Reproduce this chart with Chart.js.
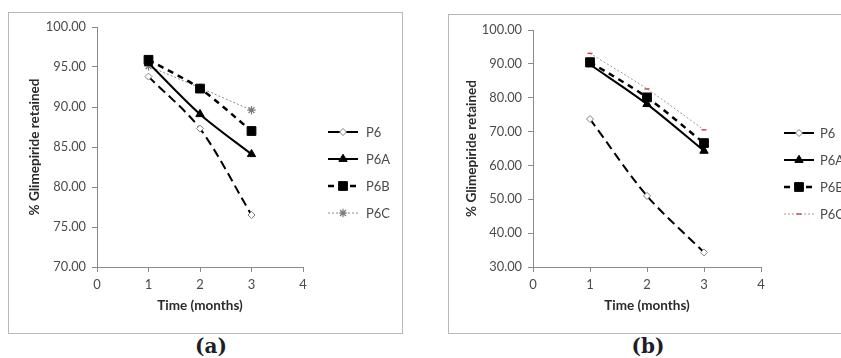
<!DOCTYPE html>
<html>
<head>
<meta charset="utf-8">
<script src="https://cdn.jsdelivr.net/npm/chart.js@4.4.1/dist/chart.umd.min.js"></script>
<style>
  html, body { margin: 0; padding: 0; background: #fff; width: 841px; height: 358px; overflow: hidden; }
  .frame { position: absolute; border: 1px solid #b8b8b8; box-sizing: border-box; background: #fff; }
  .wrap { position: absolute; }
  .caption { position: absolute; font-family: "DejaVu Serif", "Liberation Serif", serif; font-weight: bold;
             font-size: 20px; color: #1d1d28; transform: translate(-50%, -50%); white-space: nowrap; }
</style>
</head>
<body>
<div class="frame" style="left:8px; top:12px; width:395px; height:322px;"></div>
<div class="frame" style="left:448px; top:14px; width:400px; height:320px;"></div>
<div class="wrap" style="left:9px; top:13px; width:392px; height:319px;"><canvas id="chartA" width="392" height="319"></canvas></div>
<div class="wrap" style="left:449px; top:15px; width:392px; height:317px;"><canvas id="chartB" width="392" height="317"></canvas></div>
<div class="caption" style="left:211px; top:346px;">(a)</div>
<div class="caption" style="left:648px; top:346px;">(b)</div>

<script>
// Storage time points (months)
const months = [1, 2, 3];
const seriesNames = ['P6', 'P6A', 'P6B', 'P6C'];

// Panel (a): % glimepiride retained
const aP6  = [93.8, 87.3, 76.5];
const aP6A = [95.5, 89.1, 84.1];
const aP6B = [95.9, 92.3, 87.0];
const aP6C = [95.1, 92.4, 89.6];

// Panel (b): % glimepiride retained
const bP6  = [73.7, 51.0, 34.3];
const bP6A = [89.8, 78.1, 64.3];
const bP6B = [90.5, 80.1, 66.6];
const bP6C = [93.1, 82.6, 70.5];

// Axis tick labels
const xTickLabels = ['0', '1', '2', '3', '4'];
const yTickLabelsA = ['70.00', '75.00', '80.00', '85.00', '90.00', '95.00', '100.00'];
const yTickLabelsB = ['30.00', '40.00', '50.00', '60.00', '70.00', '80.00', '90.00', '100.00'];

const FONT = 'Lato, "Open Sans", sans-serif';
const AXIS_GRAY = '#8a8a8a';
const TEXT_GRAY = '#4a4a4a';

function points(values) {
  return months.map((m, i) => ({ x: m, y: values[i] }));
}

// Draw a marker in the legend with the same style as the series points
function drawMarker(ctx, ds, x, y) {
  ctx.save();
  ctx.setLineDash([]);
  ctx.fillStyle = ds.pointBackgroundColor;
  ctx.strokeStyle = ds.pointBorderColor;
  ctx.lineWidth = ds.pointBorderWidth;
  if (Chart.helpers && Chart.helpers.drawPoint) {
    Chart.helpers.drawPoint(ctx, {
      pointStyle: ds.pointStyle, radius: ds.pointRadius, rotation: 0, borderWidth: ds.pointBorderWidth
    }, x, y);
  }
  ctx.restore();
}

// Legend drawn as line sample + marker + name, stacked vertically
const sampleLegend = {
  id: 'sampleLegend',
  afterDraw(chart, args, opts) {
    const ctx = chart.ctx;
    chart.data.datasets.forEach((ds, i) => {
      const y = opts.top + i * opts.spacing;
      const x0 = opts.left, x1 = opts.left + opts.lineLength;
      ctx.save();
      ctx.strokeStyle = ds.borderColor;
      ctx.lineWidth = ds.borderWidth;
      ctx.setLineDash(ds.legendDash || []);
      ctx.beginPath();
      ctx.moveTo(x0, y);
      ctx.lineTo(x1, y);
      ctx.stroke();
      ctx.restore();
      drawMarker(ctx, ds, (x0 + x1) / 2, y);
      ctx.save();
      ctx.fillStyle = TEXT_GRAY;
      ctx.font = '13px ' + FONT;
      ctx.textBaseline = 'middle';
      ctx.textAlign = 'left';
      ctx.fillText(ds.label, x1 + opts.textGap, y + 1);
      ctx.restore();
    });
  }
};

function makeDatasets(vals, p6cStyle) {
  return [
    {
      label: seriesNames[0], data: points(vals[0]),
      borderColor: '#000', borderWidth: 2, borderDash: [9, 5], legendDash: [],
      pointStyle: 'rectRot', pointRadius: 3.5, pointBackgroundColor: '#fff',
      pointBorderColor: '#808080', pointBorderWidth: 1
    },
    {
      label: seriesNames[1], data: points(vals[1]),
      borderColor: '#000', borderWidth: 2, borderDash: [], legendDash: [],
      pointStyle: 'triangle', pointRadius: 4.8, pointBackgroundColor: '#000',
      pointBorderColor: '#000', pointBorderWidth: 1
    },
    {
      label: seriesNames[2], data: points(vals[2]),
      borderColor: '#000', borderWidth: 2.5, borderDash: [6, 5], legendDash: [6, 5],
      pointStyle: 'rect', pointRadius: 6.2, pointBackgroundColor: '#000',
      pointBorderColor: '#000', pointBorderWidth: 1
    },
    Object.assign({ label: seriesNames[3], data: points(vals[3]), borderDash: [2, 2], legendDash: [2, 2] }, p6cStyle)
  ];
}

function makeChart(id, datasets, yLabels, cfg) {
  const yMin = parseFloat(yLabels[0]);
  const yMax = parseFloat(yLabels[yLabels.length - 1]);
  const yStep = parseFloat(yLabels[1]) - yMin;
  return new Chart(document.getElementById(id), {
    type: 'line',
    data: { datasets },
    options: {
      responsive: false,
      animation: false,
      devicePixelRatio: 1,
      layout: { padding: { top: cfg.padTop, right: cfg.padRight, left: 0, bottom: 0 } },
      elements: { line: { tension: 0.3, fill: false } },
      plugins: {
        legend: { display: false },
        tooltip: { enabled: false },
        sampleLegend: cfg.legend
      },
      scales: {
        x: {
          type: 'linear', min: 0, max: 4,
          afterFit(scale) { scale.height = cfg.xHeight; },
          border: { display: true, color: AXIS_GRAY, width: 1 },
          grid: { drawOnChartArea: false, drawTicks: true, tickLength: 5, color: AXIS_GRAY },
          ticks: {
            stepSize: 1, padding: 5, color: TEXT_GRAY, font: { family: FONT, size: 13 },
            callback: (v) => xTickLabels[Math.round(v)]
          },
          title: {
            display: true, text: 'Time (months)', color: '#2a2a2a',
            font: { family: FONT, size: 13.5, weight: 'bold' }, padding: { top: 0, bottom: cfg.xTitlePad }
          }
        },
        y: {
          min: yMin, max: yMax,
          afterFit(scale) { scale.width = cfg.yWidth; },
          border: { display: true, color: AXIS_GRAY, width: 1 },
          grid: { drawOnChartArea: false, drawTicks: true, tickLength: 5, color: AXIS_GRAY },
          ticks: {
            stepSize: yStep, padding: 6, color: TEXT_GRAY, font: { family: FONT, size: 12.8 },
            callback: (v) => yLabels.find(l => Math.abs(parseFloat(l) - v) < 1e-6)
          },
          title: {
            display: true, text: '% Glimepiride retained', color: '#2a2a2a',
            font: { family: FONT, size: 13.5, weight: 'bold' }, padding: { top: cfg.yTitlePad, bottom: 0 }
          }
        }
      }
    },
    plugins: [sampleLegend]
  });
}

makeChart('chartA',
  makeDatasets([aP6, aP6A, aP6B, aP6C], {
    borderColor: '#8c8c8c', borderWidth: 1,
    pointStyle: 'star', pointRadius: 4.2, pointBackgroundColor: '#8c8c8c',
    pointBorderColor: '#7a7a7a', pointBorderWidth: 1.2
  }),
  yTickLabelsA,
  { padTop: 14, padRight: 98, xHeight: 65, yWidth: 88, yTitlePad: 18, xTitlePad: 18,
    legend: { left: 319, top: 119, spacing: 27, lineLength: 30, textGap: 8 } });

makeChart('chartB',
  makeDatasets([bP6, bP6A, bP6B, bP6C], {
    borderColor: '#a89494', borderWidth: 1,
    pointStyle: 'line', pointRadius: 2.5, pointBackgroundColor: '#c0504d',
    pointBorderColor: '#c0504d', pointBorderWidth: 1.5
  }),
  yTickLabelsB,
  { padTop: 15, padRight: 80, xHeight: 65, yWidth: 84, yTitlePad: 15, xTitlePad: 18,
    legend: { left: 335, top: 118, spacing: 27, lineLength: 30, textGap: 6 } });
</script>
</body>
</html>
